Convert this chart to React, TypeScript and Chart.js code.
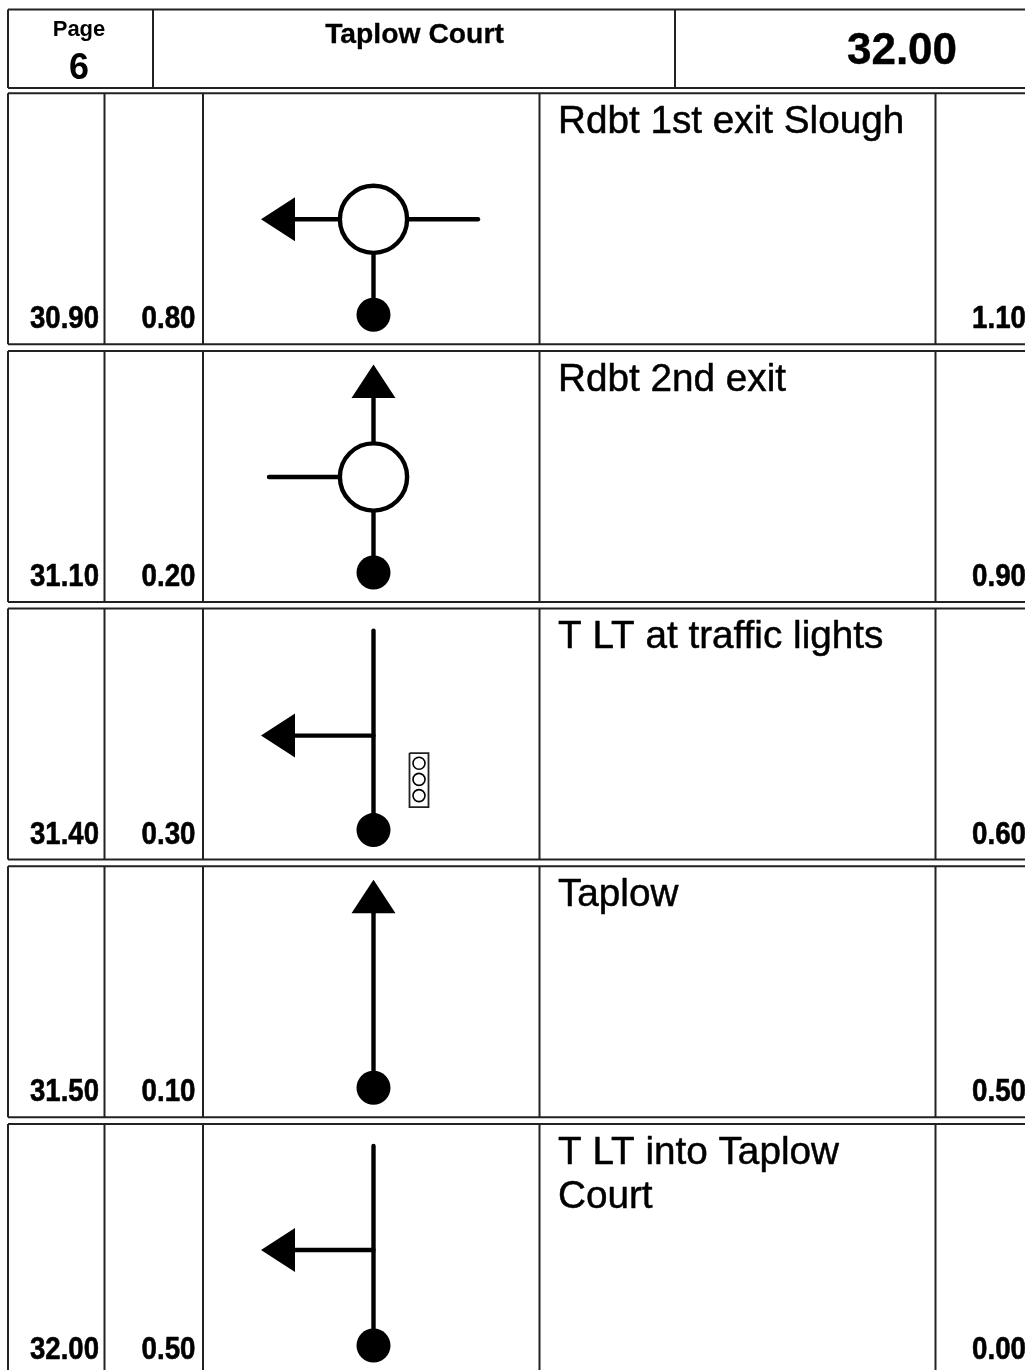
import React, { useEffect, useRef } from "react";
import { Chart, registerables } from "chart.js";

Chart.register(...registerables);

// ---------- sheet content ----------
const pageLabel = "Page";
const pageNumber = "6";
const destination = "Taplow Court";
const totalDistance = "32.00";
const odometer = ["30.90", "31.10", "31.40", "31.50", "32.00"];
const legDistance = ["0.80", "0.20", "0.30", "0.10", "0.50"];
const remaining = ["1.10", "0.90", "0.60", "0.50", "0.00"];
const instructions = [
  ["Rdbt 1st exit Slough"],
  ["Rdbt 2nd exit"],
  ["T LT at traffic lights"],
  ["Taplow"],
  ["T LT into Taplow", "Court"],
];

// ---------- sheet grid, in sheet units ----------
const headerTop = 9.5;
const headerBottom = 88;
const headerLeft = 8;
const headerDividers = [153, 675];
const sheetRight = 1025;
const sheetBottom = 1372;
const rowTops = [93.3, 351, 608.6, 866.3, 1124];
const rowHeight = 251;
const columnEdges = [8, 104.5, 203, 539.5, 935.5];

// ---------- tulip diagrams, in row-local sheet units ----------
type P = [number, number];
const stemX = 373.5;
const startY = 221.5;
const roads: P[][][] = [
  [[[stemX, startY], [stemX, 155]], [[295, 126], [340, 126]], [[407, 126], [478, 126]]],
  [[[stemX, startY], [stemX, 155]], [[stemX, 47], [stemX, 95]], [[269, 126], [340, 126]]],
  [[[stemX, startY], [stemX, 22]], [[295, 127], [stemX, 127]]],
  [[[stemX, startY], [stemX, 47]]],
  [[[stemX, startY], [stemX, 22]], [[295, 126], [stemX, 126]]],
];
const roundabouts: (P | null)[] = [[stemX, 126], [stemX, 126], null, null, null];
const arrowHeads: P[][] = [
  [[261, 126], [295, 104], [295, 148]],
  [[stemX, 13.5], [351.5, 47], [395.5, 47]],
  [[261, 127], [295, 105], [295, 149]],
  [[stemX, 13.5], [351.5, 47], [395.5, 47]],
  [[261, 126], [295, 104], [295, 148]],
];
const signalRow = 2;
const signalHousing: P[] = [[409.5, 144.5], [428.5, 144.5], [428.5, 198.5], [409.5, 198.5], [409.5, 144.5]];
const signalLamps: P[] = [[419, 154.6], [419, 170.8], [419, 187]];

const ink = "#000000";
const rule = "#222222";
const font = '"Liberation Sans", Arial, sans-serif';

const line = (pts: P[], width: number, color: string, cap: CanvasLineCap = "butt") => ({
  data: pts.map(([x, y]) => ({ x, y })),
  showLine: true,
  borderColor: color,
  borderWidth: width,
  borderCapStyle: cap,
  pointRadius: 0,
  tension: 0,
  fill: false,
});

const shift = (pts: P[], dy: number): P[] => pts.map(([x, y]) => [x, y + dy] as P);

function buildDatasets() {
  const sets: any[] = [];
  // header frame
  sets.push(line([[headerLeft, headerTop], [sheetRight, headerTop]], 2, rule));
  sets.push(line([[headerLeft, headerBottom], [sheetRight, headerBottom]], 2, rule));
  for (const x of [headerLeft, ...headerDividers]) {
    sets.push(line([[x, headerTop], [x, headerBottom]], 2, rule));
  }
  // rows
  rowTops.forEach((top, i) => {
    const bottom = Math.min(top + rowHeight, sheetBottom);
    sets.push(line([[headerLeft, top], [sheetRight, top]], 2, rule));
    if (top + rowHeight < sheetBottom) sets.push(line([[headerLeft, bottom], [sheetRight, bottom]], 2, rule));
    for (const x of columnEdges) sets.push(line([[x, top], [x, bottom]], 2, rule));
    // diagram
    for (const r of roads[i]) sets.push(line(shift(r, top), 4.4, ink, "round"));
    sets.push({
      ...line(shift(arrowHeads[i], top), 0, ink),
      fill: "shape",
      backgroundColor: ink,
    });
    const ring = roundabouts[i];
    if (ring) {
      sets.push({
        data: shift([ring], top).map(([x, y]) => ({ x, y })),
        pointRadius: 33.6,
        pointBorderWidth: 4.4,
        pointBorderColor: ink,
        pointBackgroundColor: "#ffffff",
        showLine: false,
      });
    }
    sets.push({
      data: [{ x: stemX, y: startY + top }],
      pointRadius: 17,
      pointBorderWidth: 0,
      pointBackgroundColor: ink,
      showLine: false,
    });
  });
  // traffic-light symbol
  const st = rowTops[signalRow];
  sets.push(line(shift(signalHousing, st), 1.8, rule));
  sets.push({
    data: shift(signalLamps, st).map(([x, y]) => ({ x, y })),
    pointRadius: 6,
    pointBorderWidth: 1.6,
    pointBorderColor: ink,
    pointBackgroundColor: "#ffffff",
    showLine: false,
  });
  // Chart.js paints the first dataset last, so reverse to keep the paint order above.
  return sets.reverse();
}

const textPlugin = {
  id: "sheetText",
  afterDatasetsDraw(chart: any) {
    const { ctx, scales } = chart;
    const X = (v: number) => scales.x.getPixelForValue(v);
    const Y = (v: number) => scales.y.getPixelForValue(v);
    const put = (
      s: string, x: number, y: number, f: string,
      align: CanvasTextAlign = "left", maxWidth?: number, heavy = 0
    ) => {
      ctx.font = f;
      ctx.textAlign = align;
      ctx.textBaseline = "alphabetic";
      ctx.fillStyle = ink;
      if (maxWidth) ctx.fillText(s, X(x), Y(y), maxWidth);
      else ctx.fillText(s, X(x), Y(y));
      if (heavy) {
        ctx.strokeStyle = ink;
        ctx.lineWidth = heavy;
        ctx.lineJoin = "round";
        if (maxWidth) ctx.strokeText(s, X(x), Y(y), maxWidth);
        else ctx.strokeText(s, X(x), Y(y));
      }
    };
    ctx.save();
    put(pageLabel, 79, 36, `bold 22px ${font}`, "center");
    put(pageNumber, 79, 79, `bold 36px ${font}`, "center");
    put(destination, 414.5, 43, `bold 28.3px ${font}`, "center", undefined, 0.3);
    put(totalDistance, 902, 64, `bold 44px ${font}`, "center", undefined, 0.4);
    rowTops.forEach((top, i) => {
      const base = top + 235;
      put(odometer[i], 99, base, `bold 32px ${font}`, "right", 69, 0.6);
      put(legDistance[i], 195.5, base, `bold 32px ${font}`, "right", 54, 0.6);
      put(remaining[i], 972, base, `bold 32px ${font}`, "left", 54, 0.6);
      instructions[i].forEach((t, j) => {
        put(t, 558, top + 39.5 + j * 44, `38.7px ${font}`, "left", undefined, 0.5);
      });
    });
    ctx.restore();
  },
};

export default function App() {
  const ref = useRef<HTMLCanvasElement>(null);
  useEffect(() => {
    const chart = new Chart(ref.current as HTMLCanvasElement, {
      type: "scatter",
      data: { datasets: buildDatasets() },
      options: {
        animation: false,
        responsive: false,
        events: [],
        layout: { padding: 0, autoPadding: false },
        plugins: { legend: { display: false }, tooltip: { enabled: false }, title: { display: false } },
        scales: {
          x: { type: "linear", min: 0, max: 1025, display: false },
          y: { type: "linear", min: 0, max: 1370, reverse: true, display: false },
        },
      },
      plugins: [textPlugin],
    } as any);
    return () => chart.destroy();
  }, []);
  return (
    <canvas
      ref={ref}
      width={1025}
      height={1370}
      style={{ position: "absolute", left: 0, top: 0, display: "block", background: "#fff" }}
    />
  );
}
